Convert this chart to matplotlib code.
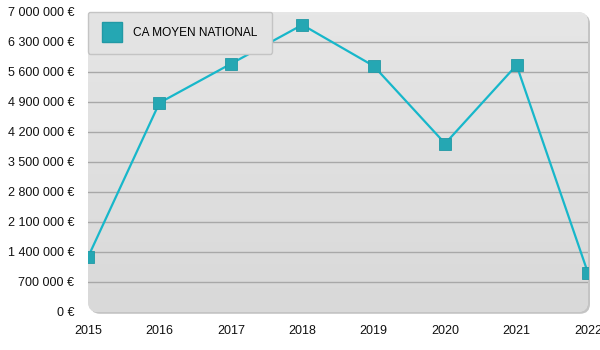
import numpy as np
import matplotlib
matplotlib.use('Agg')
import matplotlib.pyplot as plt
import matplotlib.ticker as mtick
from matplotlib.patches import FancyBboxPatch
from matplotlib.lines import Line2D

plt.rcParams['font.family'] = ['Liberation Sans', 'DejaVu Sans']

# Données
annees = [2015, 2016, 2017, 2018, 2019, 2020, 2021, 2022]
ca_moyen = [1280000, 4880000, 5790000, 6700000, 5740000, 3930000, 5760000, 910000]
serie_nom = 'CA MOYEN NATIONAL'
graduations = np.arange(0, 7000001, 700000)

couleur_ligne = '#17b7ca'
couleur_marqueur = '#25a7b3'

fig = plt.figure(figsize=(6, 3.5), dpi=100)
ax = fig.add_axes([88 / 600, 38 / 350, 500 / 600, 300 / 350])
ax.set_xlim(annees[0], annees[-1])
ax.set_ylim(0, 7000000)

# Fond arrondi avec dégradé
ax.patch.set_visible(False)
ombre = FancyBboxPatch((0.004, -0.006), 1.0, 1.0, boxstyle='round,pad=0,rounding_size=0.02',
                       transform=ax.transAxes, facecolor='#c4c4c4', edgecolor='none',
                       zorder=0, clip_on=False, mutation_aspect=500 / 300)
ax.add_patch(ombre)
fond = FancyBboxPatch((0, 0), 1, 1, boxstyle='round,pad=0,rounding_size=0.02',
                      transform=ax.transAxes, facecolor='#e0e0e0', edgecolor='none',
                      zorder=0.5, clip_on=False, mutation_aspect=500 / 300)
ax.add_patch(fond)
degrade = np.linspace(0, 1, 100).reshape(-1, 1)
img = ax.imshow(degrade, extent=(0, 1, 0, 1), transform=ax.transAxes, aspect='auto',
                cmap=matplotlib.colors.LinearSegmentedColormap.from_list('g', ['#d9d9d9', '#e6e6e6']),
                origin='lower', zorder=0.6)
img.set_clip_path(fond)

# Lignes de grille
for g in graduations[1:-1]:
    ax.axhline(g, color='#a8a8a8', linewidth=1, zorder=1)

ax.plot(annees, ca_moyen, color=couleur_ligne, linewidth=1.6, zorder=2)
ax.plot(annees, ca_moyen, linestyle='none', marker='s', markersize=8,
        markerfacecolor=couleur_marqueur, markeredgecolor='#2199a5', markeredgewidth=0.6, zorder=3)

ax.set_xticks(annees)
ax.set_yticks(graduations)
ax.yaxis.set_major_formatter(mtick.FuncFormatter(lambda v, p: f'{int(v):,} €'.replace(',', ' ')))
ax.tick_params(axis='both', length=0, labelsize=9, colors='#111111')
ax.tick_params(axis='y', pad=10)
ax.tick_params(axis='x', pad=9)
for s in ax.spines.values():
    s.set_visible(False)

poignee = Line2D([], [], linestyle='none', marker='s', markersize=14,
                 markerfacecolor=couleur_marqueur, markeredgecolor='#2199a5')
leg = ax.legend([poignee], [serie_nom], loc='upper left', bbox_to_anchor=(0, 1),
                borderaxespad=0, fontsize=8.6, frameon=True, fancybox=True,
                borderpad=1.25, handletextpad=0.9, handlelength=1.6)
leg.get_frame().set_facecolor('#e3e3e3')
leg.get_frame().set_edgecolor('#c4c4c4')
leg.get_frame().set_alpha(1)
leg.set_zorder(5)

fig.savefig('out.png', dpi=100)
